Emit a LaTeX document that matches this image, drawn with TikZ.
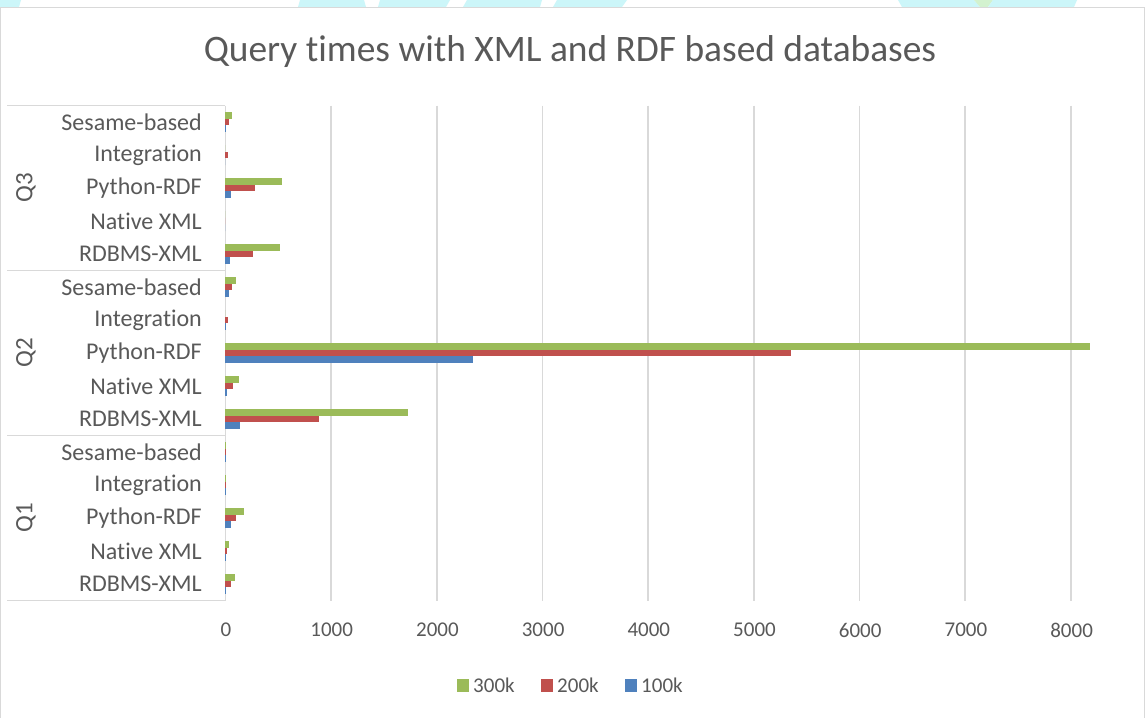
\documentclass[tikz,border=0pt]{standalone}
\usepackage{fontspec}
\setmainfont[Ligatures=NoCommon]{Carlito}
\definecolor{serA}{HTML}{9BBB59}
\definecolor{serB}{HTML}{C0504D}
\definecolor{serC}{HTML}{4F81BD}
\definecolor{txt}{HTML}{595959}
\definecolor{gridc}{HTML}{D9D9D9}
\definecolor{wmark}{HTML}{CCF6F9}
\definecolor{wgreen}{HTML}{D3F2CF}
\tikzset{
  gridline/.style={draw=gridc, line width=1.6pt},
  frameline/.style={draw=gridc, line width=1.2pt},
  catlabel/.style={text=txt, anchor=east, inner sep=0pt, font=\fontsize{24}{28}\selectfont},
  grplabel/.style={text=txt, rotate=90, inner sep=0pt, font=\fontsize{25}{29}\selectfont},
  ticklabel/.style={text=txt, inner sep=0pt, font=\fontsize{21}{25}\selectfont},
  legtext/.style={text=txt, anchor=west, inner sep=0pt, font=\fontsize{21}{25}\selectfont},
  legkey/.style={minimum width=12pt, minimum height=13pt, inner sep=0pt},
  barA/.style={fill=serA},
  barB/.style={fill=serB},
  barC/.style={fill=serC},
}
% value -> x position of the bar end
\newcommand{\xv}[1]{225.3+#1*0.1057}
\begin{document}
\begin{tikzpicture}[x=1pt,y=-1pt]
\useasboundingbox (0,0) rectangle (1147,717);
\fill[white] (0,0) rectangle (1147,717);
% background strip above the chart frame
\fill[wmark] (0,0) -- (21,0) -- (19,7) -- (0,7) -- cycle;
\fill[wmark] (300,0) -- (364,0) -- (366,7) -- (298,7) -- cycle;
\fill[wmark] (380,0) -- (450,0) -- (446,7) -- (378,7) -- cycle;
\fill[wmark] (467,0) -- (542,0) -- (540,7) -- (463,7) -- cycle;
\fill[wmark] (557,0) -- (627,0) -- (622,7) -- (553,7) -- cycle;
\fill[wmark] (898,0) -- (974,0) -- (980,7) -- (902,7) -- cycle;
\fill[wgreen] (974,0) -- (993,0) -- (988,7) -- (980,7) -- cycle;
\fill[wmark] (993,0) -- (1077,0) -- (1074,7) -- (988,7) -- cycle;
% chart frame
\draw[frameline] (0.8,730) -- (0.8,7.5) -- (1144.8,7.5) -- (1144.8,730);
% title
\node[text=txt, inner sep=0pt, font=\fontsize{37.4}{44}\selectfont] (title) at (570,52) {Query times with XML and RDF based databases};
% vertical gridlines and value labels
\foreach \v in {1,...,8} {
  \draw[gridline] (225.3+\v*105.7,105.5) -- (225.3+\v*105.7,600.5);
}
\foreach \v in {0,...,8} {
  \pgfmathtruncatemacro{\lab}{\v*1000}
  \node[ticklabel] (tick\v) at (226+\v*105.7,630) {\lab};
}
% category axis
\draw[gridline] (225.3,105.5) -- (225.3,600.5);
\foreach \yy in {105.5,270.5,435.5,600.5} {
  \draw[frameline] (7,\yy) -- (225.3,\yy);
}
% bars: row index, 300k, 200k, 100k
\foreach \r/\a/\b/\c in {
  0/66/38/10, 1/0/22/0, 2/536/281/57, 3/0/0/0, 4/520/262/42,
  5/98/63/32, 6/0/22/8, 7/8181/5352/2346, 8/130/73/13, 9/1729/886/142,
  10/3/2/2, 11/3/2/2, 12/174/101/51, 13/32/16/3, 14/89/51/8} {
  \pgfmathsetmacro{\cy}{122+33*\r}
  \fill[barA] (225.3,\cy-10) rectangle (\xv{\a},\cy-3.33);
  \fill[barB] (225.3,\cy-3.33) rectangle (\xv{\b},\cy+3.33);
  \fill[barC] (225.3,\cy+3.33) rectangle (\xv{\c},\cy+10);
}
% category labels
\foreach \g/\k in {0/q3,1/q2,2/q1} {
  \pgfmathsetmacro{\base}{122+165*\g}
  \node[catlabel] (\k s) at (202,\base) {Sesame-based};
  \node[catlabel] (\k i) at (202,\base+33) {Integration};
  \node[catlabel] (\k p) at (202,\base+66) {Python-RDF};
  \node[catlabel] (\k n) at (202,\base+99) {Native XML};
  \node[catlabel] (\k r) at (202,\base+132) {RDBMS-XML};
}
\node[grplabel] (gq3) at (26,188) {Q3};
\node[grplabel] (gq2) at (26,353) {Q2};
\node[grplabel] (gq1) at (26,518) {Q1};
% legend
\node[legkey, fill=serA] (kA) at (463,685) {};
\node[legtext] (lA) at (473,685) {300k};
\node[legkey, fill=serB] (kB) at (547,685) {};
\node[legtext] (lB) at (557,685) {200k};
\node[legkey, fill=serC] (kC) at (631,685) {};
\node[legtext] (lC) at (641,685) {100k};
\end{tikzpicture}
\end{document}
